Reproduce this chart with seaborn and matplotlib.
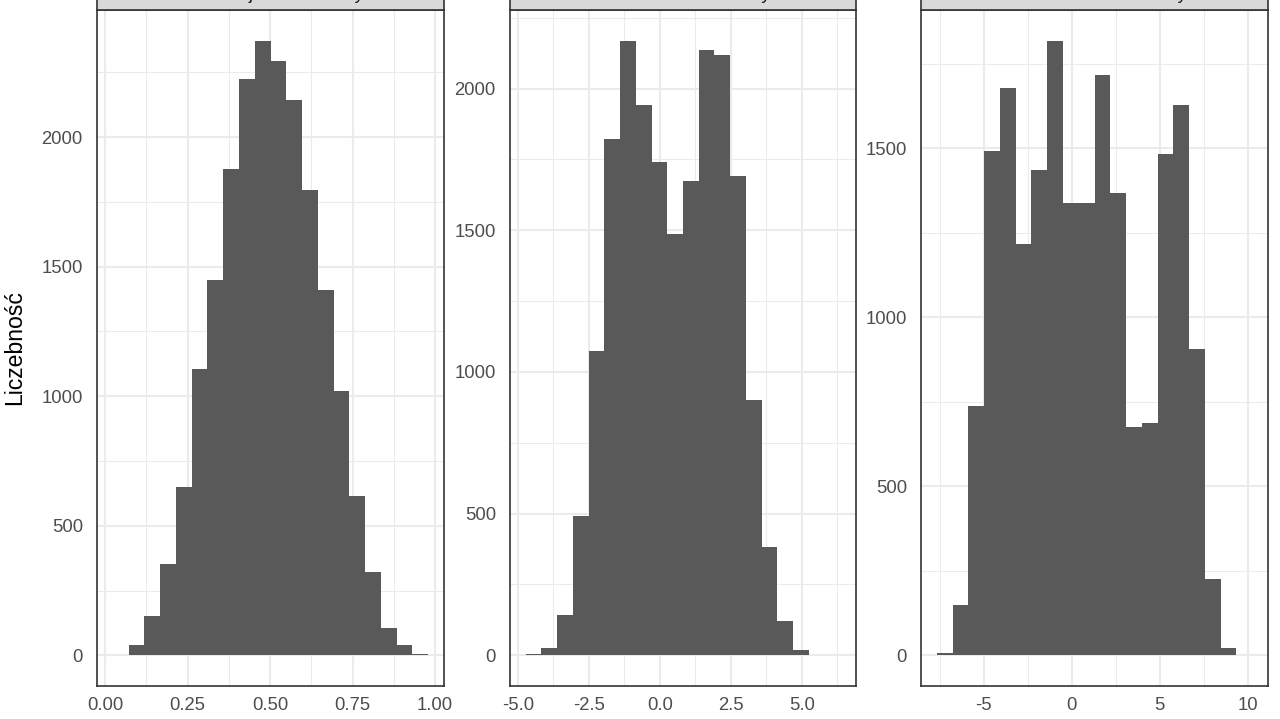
import numpy as np
import pandas as pd
import matplotlib
matplotlib.use("Agg")
import matplotlib.pyplot as plt
import seaborn as sns
from matplotlib.patches import Rectangle

titles = ["Rozkład jednomodalny", "Rozkład dwumodalny", "Rozkład wielomodalny"]
y_label = "Liczebność"

# histogram bins: first edge, bin width, counts per bin
# (20 bins each; one end bin is empty but still widens the axis range)
start_1, width_1 = 0.0231, 0.0478
counts_1 = [0, 39, 151, 351, 649, 1106, 1450, 1877, 2224, 2372, 2293,
            2142, 1797, 1411, 1020, 616, 321, 106, 39, 3]

start_2, width_2 = -4.72, 0.554
counts_2 = [3, 24, 143, 493, 1073, 1821, 2169, 1942, 1741, 1488,
            1674, 2137, 2120, 1693, 902, 383, 120, 17, 1, 0]

start_3, width_3 = -7.66, 0.896
counts_3 = [6, 149, 736, 1492, 1679, 1217, 1437, 1818, 1337, 1337,
            1717, 1367, 674, 688, 1483, 1628, 905, 227, 21, 0]

xticks_1 = [0.0, 0.25, 0.5, 0.75, 1.0]
xlabels_1 = ["0.00", "0.25", "0.50", "0.75", "1.00"]
xticks_2 = [-5.0, -2.5, 0.0, 2.5, 5.0]
xlabels_2 = ["-5.0", "-2.5", "0.0", "2.5", "5.0"]
xticks_3 = [-5, 0, 5, 10]
xlabels_3 = ["-5", "0", "5", "10"]
yticks_1 = [0, 500, 1000, 1500, 2000]
yticks_2 = [0, 500, 1000, 1500, 2000]
yticks_3 = [0, 500, 1000, 1500]

sns.set_style("white")
plt.rcParams["font.family"] = ["Liberation Sans", "DejaVu Sans"]
plt.rcParams["axes.unicode_minus"] = False

FILL = "#595959"
GRID = "#EBEBEB"
DARK = "#333333"


def minor_between(ticks, lo, hi):
    step = ticks[1] - ticks[0]
    cand = np.arange(ticks[0] - step / 2, ticks[-1] + step, step)
    return [c for c in cand if lo <= c <= hi]


fig = plt.figure(figsize=(12.8, 7.19), dpi=100)
W, H = 1280, 719
lefts = [97, 510, 921]
widths = [347, 346, 347]
top, bottom = 10, 686

panels = [
    (start_1, width_1, counts_1, xticks_1, xlabels_1, yticks_1),
    (start_2, width_2, counts_2, xticks_2, xlabels_2, yticks_2),
    (start_3, width_3, counts_3, xticks_3, xlabels_3, yticks_3),
]

for i, (start, bw, counts, xt, xl, yt) in enumerate(panels):
    ax = fig.add_axes([lefts[i] / W, (H - bottom) / H, widths[i] / W, (bottom - top) / H])
    edges = start + bw * np.arange(len(counts) + 1)
    df = pd.DataFrame({"x": edges[:-1] + bw / 2, "n": counts})
    sns.histplot(data=df, x="x", weights="n", bins=edges.tolist(), ax=ax,
                 color=FILL, alpha=1, edgecolor="none", linewidth=0)

    xlo, xhi = edges[0], edges[-1]
    xpad = 0.05 * (xhi - xlo)
    ymax = max(counts)
    ax.set_xlim(xlo - xpad, xhi + xpad)
    ax.set_ylim(-0.05 * ymax, 1.05 * ymax)

    ax.set_xticks(xt)
    ax.set_xticklabels(xl)
    ax.set_yticks(yt)
    ax.set_yticklabels([str(v) for v in yt])
    ax.set_xticks(minor_between(xt, xlo - xpad, xhi + xpad), minor=True)
    ax.set_yticks(minor_between(yt, -0.05 * ymax, 1.05 * ymax), minor=True)

    ax.set_axisbelow(True)
    ax.grid(which="major", color=GRID, linewidth=1.5)
    ax.grid(which="minor", color=GRID, linewidth=0.75)
    ax.tick_params(which="minor", length=0)
    ax.tick_params(which="major", length=4.2, width=0.8, color=DARK,
                   labelsize=13.3, labelcolor="#4D4D4D")
    ax.tick_params(axis="x", pad=3.5)
    ax.tick_params(axis="y", pad=6)
    ax.set_xlabel("")
    ax.set_ylabel("")
    for s in ax.spines.values():
        s.set_visible(True)
        s.set_color(DARK)
        s.set_linewidth(1.2)

    # facet strip, mostly cut off by the top of the figure
    ax.add_patch(Rectangle((0, 1), 1, 0.06, transform=ax.transAxes, clip_on=False,
                           facecolor="#D9D9D9", edgecolor=DARK, linewidth=1.2, zorder=5))
    ax.annotate(titles[i], xy=(0.5, 1), xycoords="axes fraction", xytext=(0, 7.9),
                textcoords="offset points", ha="center", va="baseline",
                fontsize=13.3, color="#1A1A1A", zorder=6, annotation_clip=False)

fig.text(15 / W, 1 - 348 / H, y_label, rotation=90, ha="center", va="center",
         fontsize=16.6, color="black")

fig.savefig("out.png", dpi=100)
